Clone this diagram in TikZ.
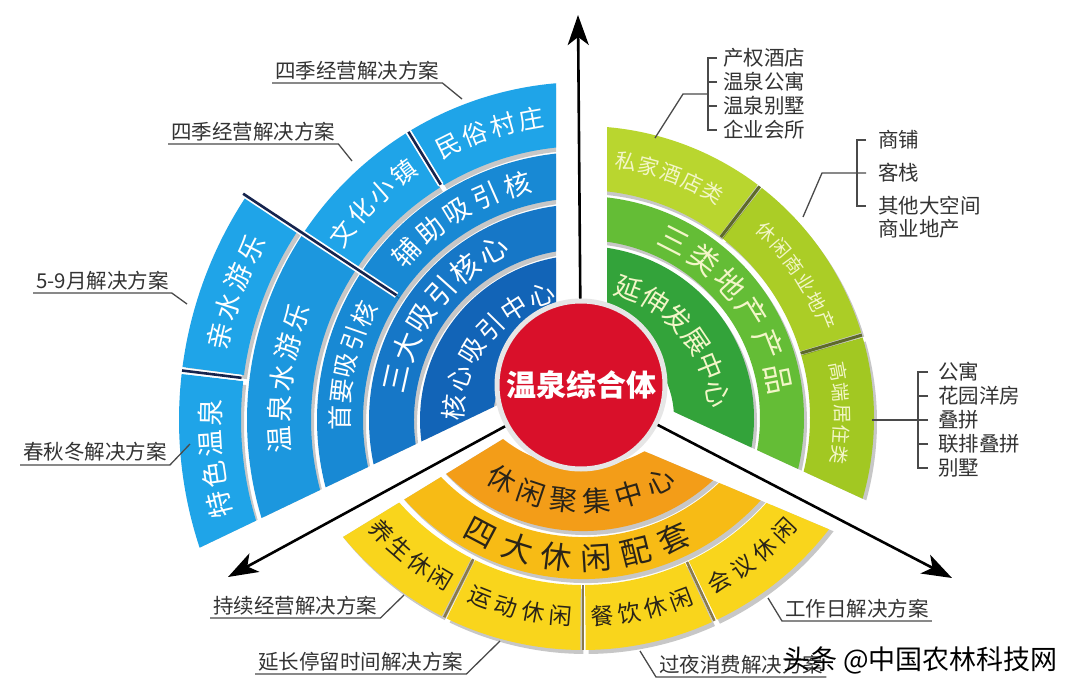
\documentclass[tikz,border=0pt]{standalone}
\usepackage{fontspec}
\setmainfont{Noto Sans CJK SC}
\usetikzlibrary{calc,arrows.meta}
\tikzset{>={Stealth[length=30pt,width=21pt,inset=8pt]}}
\definecolor{blueA}{HTML}{1FA4E8}
\definecolor{blueB}{HTML}{1C97DE}
\definecolor{blueC}{HTML}{1889D4}
\definecolor{blueD}{HTML}{1677C7}
\definecolor{blueE}{HTML}{1264B7}
\definecolor{navy}{HTML}{16244E}
\definecolor{grnA}{HTML}{33A33A}
\definecolor{grnB}{HTML}{64BD36}
\definecolor{grnC}{HTML}{B9D62F}
\definecolor{grnD}{HTML}{ABCD26}
\definecolor{grnE}{HTML}{A2C822}
\definecolor{olivedark}{HTML}{5E6A2A}
\definecolor{orgA}{HTML}{F39D18}
\definecolor{orgB}{HTML}{F7BB15}
\definecolor{orgC}{HTML}{F9D51C}
\definecolor{orgsep}{HTML}{8A7A48}
\definecolor{hubred}{HTML}{D9102A}
\definecolor{hubrim}{HTML}{E6E6E6}
\definecolor{gtext}{HTML}{F3F6C8}
\definecolor{otext}{HTML}{2A2418}
\definecolor{lbltext}{HTML}{333333}
\definecolor{leadgray}{HTML}{4A4A4A}
\newcommand\fs[1]{\fontsize{#1}{#1}\selectfont}
% ring piece: center, inner r, outer r, start, end, colour
\newcommand\tile[6]{%
  \fill[black,opacity=.22,shift={(3,-4)}] (#1) ++(#4:#3) arc[start angle=#4,end angle=#5,radius=#3]
    -- ++(#5:{#2-#3}) arc[start angle=#5,end angle=#4,radius=#2] -- cycle;
  \fill[#6] (#1) ++(#4:#3) arc[start angle=#4,end angle=#5,radius=#3]
    -- ++(#5:{#2-#3}) arc[start angle=#5,end angle=#4,radius=#2] -- cycle;}
% letters along a ring: name, center, r, mid angle, pitch, count, style, letters
\newcommand\arcword[8]{%
  \foreach \chr [count=\i from 0] in {#8}{%
    \pgfmathsetmacro\ang{#4+((#6-1)/2-\i)*(#5)/(#3)*57.2958}%
    \node[#7,rotate=\ang-90] (#1-\i) at ($(#2)+(\ang:#3)$) {\chr};}}
\tikzset{
  ch/.style={inner sep=0pt, font=\fs{#1}},
  wch/.style={ch=#1, text=white},
  gch/.style={ch=#1, text=gtext},
  och/.style={ch=#1, text=otext, rotate=180},
  hub/.style={circle, fill=hubred, draw=hubrim, line width=5pt, minimum size=168pt,
    inner sep=0pt, text=white, font=\fs{30}\bfseries},
  axis/.style={->, line width=2.6pt},
  lead/.style={draw=leadgray, line width=1.3pt},
  lbl/.style={anchor=south west, inner xsep=3pt, inner ysep=3pt, font=\fs{20.5}, text=lbltext},
  item/.style={anchor=west, inner sep=0pt, font=\fs{20.5}, text=lbltext},
  sepb/.style={draw=navy, line width=2.6pt, preaction={draw=white, line width=6pt}},
  sepg/.style={draw=olivedark, line width=3pt},
  sepo/.style={draw=orgsep, line width=2.6pt}
}
\begin{document}
\begin{tikzpicture}[x=1pt,y=1pt]
  \useasboundingbox (0,0) rectangle (1080,-693);
  \fill[white] (0,0) rectangle (1080,-693);

  %% blue part
  \coordinate (cb) at (585,-420);
  \begin{scope}
    \clip (556,-377) -- (556,0) -- (0,0) -- (0,-593) -- (105,-593) -- cycle;
    \tile{585,-420}{344}{406}{173.5}{215}{blueA}   %% 特色温泉
    \tile{585,-420}{344}{406}{146.5}{172.5}{blueA} %% 亲水游乐
    \tile{585,-420}{274}{338}{146.5}{215}{blueB}   %% 温泉水游乐
    \tile{585,-420}{222}{268}{146.5}{215}{blueC}   %% 首要吸引核
    \tile{585,-420}{274}{338}{122}{146.5}{blueA}   %% 文化小镇
    \tile{585,-420}{274}{338}{60}{121}{blueA}      %% 民俗村庄
    \tile{585,-420}{222}{268}{60}{146.5}{blueC}    %% 辅助吸引核
    \tile{585,-420}{171}{216}{60}{215}{blueD}      %% 三大吸引核心
    \tile{585,-420}{92}{165}{60}{215}{blueE}       %% 核心吸引中心
    \draw[sepb] ($(cb)+(146.5:226)$) -- ($(cb)+(146.5:410)$);
    \draw[sepb] ($(cb)+(173:346)$) -- ($(cb)+(173:406)$);
    \draw[sepb] ($(cb)+(121.5:276)$) -- ($(cb)+(121.5:338)$);
  \end{scope}

  %% green part
  \coordinate (cg) at (582,-418);
  \begin{scope}
    \clip (607,-381) -- (607,0) -- (1150,0) -- (1150,-631) -- cycle;
    \tile{582,-418}{228}{292}{-40}{16}{grnE}  %% 高端居住类
    \tile{582,-418}{228}{292}{17}{52}{grnD}   %% 休闲商业地产
    \tile{582,-418}{228}{292}{53}{100}{grnC}  %% 私家酒店类
    \tile{582,-418}{178}{222}{-40}{100}{grnB} %% 三类地产产品
    \tile{582,-418}{92}{172}{-40}{100}{grnA}  %% 延伸发展中心
    \draw[sepg] ($(cg)+(16.5:228)$) -- ($(cg)+(16.5:292)$);
    \draw[sepg] ($(cg)+(52.5:228)$) -- ($(cg)+(52.5:292)$);
  \end{scope}

  %% orange part
  \coordinate (co) at (583,-339);
  \begin{scope}
    \clip (508,-436) -- (201,-624) -- (201,-700) -- (989,-700) -- (989,-597) -- (639,-449) -- cycle;
    \tile{583,-339}{246}{311}{200}{243}{orgC}     %% 养生休闲
    \tile{583,-339}{246}{311}{244}{269.5}{orgC}   %% 运动休闲
    \tile{583,-339}{246}{311}{270.5}{294.5}{orgC} %% 餐饮休闲
    \tile{583,-339}{246}{311}{295.5}{340}{orgC}   %% 会议休闲
    \tile{583,-339}{198}{240}{200}{340}{orgB}     %% 四大休闲配套
    \tile{583,-339}{128}{192}{200}{340}{orgA}     %% 休闲聚集中心
    \draw[sepo] ($(co)+(243.5:246)$) -- ($(co)+(243.5:311)$);
    \draw[sepo] ($(co)+(270:246)$) -- ($(co)+(270:311)$);
    \draw[sepo] ($(co)+(295:246)$) -- ($(co)+(295:311)$);
  \end{scope}

  %% ring texts
  \arcword{hx}{cb}{132}{142}{30}{6}{wch=26}{核,心,吸,引,中,心}
  \arcword{sd}{cb}{193}{143}{33}{6}{wch=29}{三,大,吸,引,核,心}
  \arcword{sy}{cb}{245}{167}{27}{5}{wch=25}{首,要,吸,引,核}
  \arcword{fz}{cb}{245}{121.5}{33}{5}{wch=27}{辅,助,吸,引,核}
  \arcword{wq}{cb}{306}{172}{31}{5}{wch=27}{温,泉,水,游,乐}
  \arcword{qs}{cb}{375}{160}{31}{4}{wch=27}{亲,水,游,乐}
  \arcword{ts}{cb}{375}{186}{31}{4}{wch=27}{特,色,温,泉}
  \arcword{wh}{cb}{306}{134.3}{29}{4}{wch=25}{文,化,小,镇}
  \arcword{ms}{cb}{306}{108.3}{29}{4}{wch=25}{民,俗,村,庄}

  \arcword{yz}{cg}{138}{40}{29}{6}{gch=27}{延,伸,发,展,中,心}
  \arcword{sl}{cg}{200}{37}{36}{6}{gch=30}{三,类,地,产,产,品}
  \arcword{sj}{cg}{260}{70}{23}{5}{gch=21}{私,家,酒,店,类}
  \arcword{xx}{cg}{262}{33.5}{21.5}{6}{gch=19}{休,闲,商,业,地,产}
  \arcword{gd}{cg}{260}{1}{21}{5}{gch=19}{高,端,居,住,类}

  \arcword{xj}{co}{162}{269}{-33}{6}{och=28}{休,闲,聚,集,中,心}
  \arcword{sf}{co}{219}{268.3}{-40}{6}{och=31}{四,大,休,闲,配,套}
  \arcword{ys}{co}{278}{231.5}{-25}{4}{och=23}{养,生,休,闲}
  \arcword{yd}{co}{278}{256.8}{-27.5}{4}{och=23}{运,动,休,闲}
  \arcword{cy}{co}{278}{282.3}{-27}{4}{och=23}{餐,饮,休,闲}
  \arcword{hy}{co}{278}{307.9}{-27.5}{4}{och=23}{会,议,休,闲}

  %% hub and axes
  \node[hub] (hub) at (581,-385) {温泉综合体};
  \coordinate (tipU) at (578,-15);
  \coordinate (tipL) at (228,-577);
  \coordinate (tipR) at (952,-578);
  \draw[axis] (hub) -- (tipU);
  \draw[axis] (hub) -- (tipL);
  \draw[axis] (hub) -- (tipR);

  %% side notes
  \coordinate (t1) at (462,-99);
  \coordinate (t2) at (352,-161);
  \coordinate (t3) at (187,-304);
  \coordinate (t4) at (190,-444);
  \coordinate (t5) at (404,-595);
  \coordinate (t6) at (500,-641);
  \coordinate (t7) at (768,-598);
  \coordinate (t8) at (640,-651);
  \node[lbl] (l1) at (272,-83) {四季经营解决方案};
  \node[lbl] (l2) at (168,-144) {四季经营解决方案};
  \node[lbl] (l3) at (33,-293) {5-9月解决方案};
  \node[lbl] (l4) at (20,-465) {春秋冬解决方案};
  \node[lbl] (l5) at (210,-618) {持续经营解决方案};
  \node[lbl] (l6) at (255,-674) {延长停留时间解决方案};
  \node[lbl] (l7) at (782,-621) {工作日解决方案};
  \node[lbl] (l8) at (656,-677) {过夜消费解决方案};
  \draw[lead] (l1.south west) -- (l1.south east) -- (t1);
  \draw[lead] (l2.south west) -- (l2.south east) -- (t2);
  \draw[lead] (l3.south west) -- (l3.south east) -- (t3);
  \draw[lead] (l4.south west) -- (l4.south east) -- (t4);
  \draw[lead] (l5.south west) -- (l5.south east) -- (t5);
  \draw[lead] (l6.south west) -- (l6.south east) -- (t6);
  \draw[lead] (t7) -- (l7.south west) -- (l7.south east);
  \draw[lead] (t8) -- (l8.south west) -- (l8.south east);

  %% lists
  \coordinate (s1) at (655,-138);
  \coordinate (s2) at (803,-217);
  \coordinate (s3) at (872,-420);
  \node[item] (a1) at (723,-58) {产权酒店};
  \node[item] (a2) at (723,-82) {温泉公寓};
  \node[item] (a3) at (723,-106) {温泉别墅};
  \node[item] (a4) at (723,-130) {企业会所};
  \draw[lead] ([xshift=-6pt]a1.west) -- ++(-9,0) |- ([xshift=-6pt]a4.west);
  \draw[lead] ([xshift=-6pt]a2.west) -- ++(-9,0);
  \draw[lead] ([xshift=-6pt]a3.west) -- ++(-9,0);
  \coordinate (ba) at (708,-94);
  \draw[lead] (ba) -- ++(-25,0) -- (s1);

  \node[item] (b1) at (878,-140) {商铺};
  \node[item] (b2) at (878,-173) {客栈};
  \node[item] (b3) at (878,-206) {其他大空间};
  \node[item] (b4) at (878,-229) {商业地产};
  \draw[lead] ([xshift=-12pt]b1.west) -- ++(-9,0) |- ([xshift=-12pt]b3.west);
  \draw[lead] ([xshift=-12pt]b2.west) -- ++(-44,0) -- (s2);

  \node[item] (c1) at (938,-372) {公寓};
  \node[item] (c2) at (938,-396) {花园洋房};
  \node[item] (c3) at (938,-420) {叠拼};
  \node[item] (c4) at (938,-444) {联排叠拼};
  \node[item] (c5) at (938,-468) {别墅};
  \draw[lead] ([xshift=-10pt]c1.west) -- ++(-10,0) |- ([xshift=-10pt]c5.west);
  \draw[lead] ([xshift=-10pt]c2.west) -- ++(-10,0);
  \draw[lead] ([xshift=-10pt]c4.west) -- ++(-10,0);
  \draw[lead] ([xshift=-10pt]c3.west) -- ++(-10,0) -- (s3);

  \node[anchor=west, inner sep=0pt, font=\fs{27}] (wm) at (783,-660) {头条 @中国农林科技网};

\end{tikzpicture}
\end{document}
